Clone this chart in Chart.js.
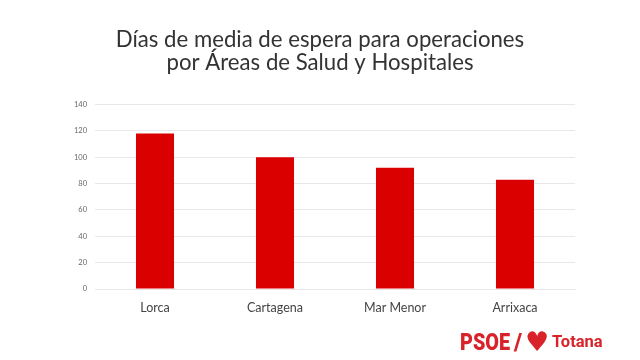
<!DOCTYPE html>
<html>
<head>
<meta charset="utf-8">
<title>Días de media de espera</title>
<script src="https://cdn.jsdelivr.net/npm/chart.js@4/dist/chart.umd.min.js"></script>
<style>
  html, body { margin: 0; padding: 0; background: #fff; }
  #wrap { position: relative; width: 640px; height: 360px; overflow: hidden; }
  #logo span { position: absolute; white-space: nowrap; color: #d9232a; font-family: Roboto, sans-serif; font-weight: 900; line-height: 1; transform-origin: left center; }
  #logo .psoe { left: 460px; top: 331px; font-size: 23px; transform: scaleX(0.86); }
  #logo .slash { left: 514px; top: 331px; font-size: 23px; }
  #logo .heart { left: 525px; top: 328px; font-size: 27px; font-family: "DejaVu Sans"; font-weight: normal; }
  #logo .place { left: 552px; top: 334px; font-size: 16.5px; font-weight: 700; }
</style>
</head>
<body>
<div id="wrap">
  <canvas id="myChart" width="640" height="360"></canvas>
  <div id="logo"><span class="psoe">PSOE</span><span class="slash">/</span><span class="heart">♥</span><span class="place">Totana</span></div>
</div>
<script>
// values
const categories = ['Lorca', 'Cartagena', 'Mar Menor', 'Arrixaca'];
const dias = [118, 100, 92, 83];
const titleLines = ['Días de media de espera para operaciones', 'por Áreas de Salud y Hospitales'];
const yMax = 140;
const yStep = 20;

const canvas = document.getElementById('myChart');

new Chart(canvas.getContext('2d'), {
  type: 'bar',
  data: {
    labels: categories,
    datasets: [
      {
        label: 'Días de espera',
        data: dias,
        backgroundColor: '#db0000',
        barPercentage: 0.317,
        categoryPercentage: 1
      }
    ]
  },
  options: {
    responsive: false,
    animation: false,
    plugins: {
      legend: { display: false },
      tooltip: { enabled: false },
      title: {
        display: true,
        text: titleLines,
        color: '#333',
        font: { family: 'Lato', size: 22.2, weight: 'normal', lineHeight: 1.05 },
        padding: { top: 28, bottom: 30 }
      }
    },
    scales: {
      x: {
        grid: { display: false },
        border: { color: '#e8e8e8' },
        ticks: { color: '#444', font: { family: 'Lato', size: 12.5 }, padding: 3 },
        afterFit: function (scale) { scale.height = 71; }
      },
      y: {
        min: 0,
        max: yMax,
        grid: { color: '#e8e8e8', drawTicks: false },
        border: { display: false },
        ticks: { stepSize: yStep, color: '#666', font: { family: 'Lato', size: 7.5 }, padding: 8 },
        afterFit: function (scale) { scale.width = 95; }
      },
      // empty right axis keeps the plot off the margin so the title stays centred on the page
      yRight: {
        position: 'right',
        display: true,
        grid: { display: false },
        border: { display: false },
        ticks: { display: false },
        afterFit: function (scale) { scale.width = 65; }
      }
    }
  }
});
</script>
</body>
</html>
